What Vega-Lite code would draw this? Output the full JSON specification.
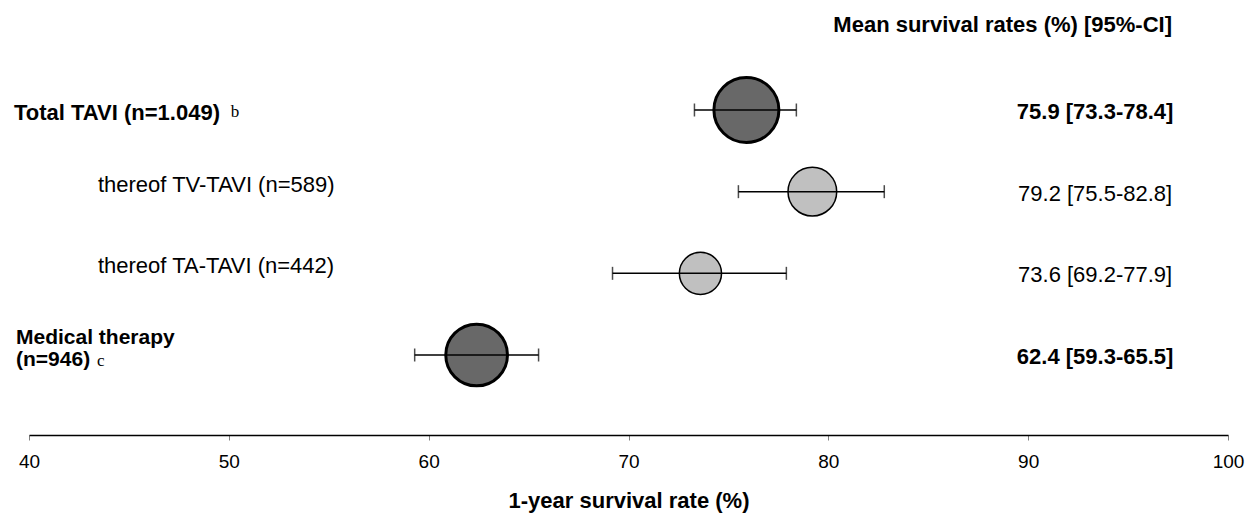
{
  "$schema": "https://vega.github.io/schema/vega-lite/v6.json",
  "autosize": "none",
  "width": 1199,
  "height": 385,
  "padding": {"left": 29, "right": 19, "top": 50, "bottom": 78},
  "background": "white",
  "config": {"view": {"stroke": null}},
  "title": {
    "text": "Mean survival rates (%) [95%-CI]",
    "anchor": "end",
    "frame": "group",
    "font": "Liberation Sans",
    "fontSize": 22,
    "fontWeight": "bold",
    "color": "black",
    "baseline": "alphabetic",
    "offset": -4,
    "dx": -56
  },
  "data": {
    "values": [
      {"group": "Total TAVI", "label": "Total TAVI (n=1.049)", "note": "b", "n": 1049, "mean": 75.9, "lo": 73.3, "hi": 78.4, "level": "main", "ci": "75.9 [73.3-78.4]"},
      {"group": "TV-TAVI", "label": "thereof TV-TAVI (n=589)", "note": "", "n": 589, "mean": 79.2, "lo": 75.5, "hi": 82.8, "level": "sub", "ci": "79.2 [75.5-82.8]"},
      {"group": "TA-TAVI", "label": "thereof TA-TAVI (n=442)", "note": "", "n": 442, "mean": 73.6, "lo": 69.2, "hi": 77.9, "level": "sub", "ci": "73.6 [69.2-77.9]"},
      {"group": "Medical therapy", "label": ["Medical therapy", "(n=946)"], "note": "c", "n": 946, "mean": 62.4, "lo": 59.3, "hi": 65.5, "level": "main", "ci": "62.4 [59.3-65.5]"}
    ]
  },
  "encoding": {
    "y": {
      "field": "group",
      "type": "nominal",
      "scale": {"type": "point", "domain": ["Total TAVI", "TV-TAVI", "TA-TAVI", "Medical therapy"], "range": [60, 305], "padding": 0},
      "axis": null
    }
  },
  "layer": [
    {
      "mark": {"type": "point", "filled": true, "opacity": 1, "stroke": "black", "shape": "circle"},
      "encoding": {
        "x": {
          "field": "mean",
          "type": "quantitative",
          "scale": {"domain": [40, 100], "nice": false, "zero": false},
          "axis": {
            "values": [40, 50, 60, 70, 80, 90, 100],
            "format": "d",
            "grid": false,
            "labelFlush": false,
            "domainColor": "black",
            "domainWidth": 1.5,
            "tickColor": "#808080",
            "tickSize": 5,
            "tickWidth": 1,
            "labelFont": "Liberation Sans",
            "labelFontSize": 19,
            "labelColor": "black",
            "labelPadding": 12,
            "title": "1-year survival rate (%)",
            "titleFont": "Liberation Sans",
            "titleFontSize": 22,
            "titleFontWeight": "bold",
            "titleColor": "black",
            "titlePadding": 19
          }
        },
        "size": {"field": "n", "type": "quantitative", "scale": {"domain": [0, 1049], "range": [0, 4225]}, "legend": null},
        "fill": {"field": "level", "type": "nominal", "scale": {"domain": ["main", "sub"], "range": ["#686868", "#c0c0c0"]}, "legend": null},
        "strokeWidth": {"field": "level", "type": "ordinal", "scale": {"domain": ["main", "sub"], "range": [3, 1.5]}, "legend": null}
      }
    },
    {
      "mark": {"type": "rule", "color": "black", "strokeWidth": 1.5},
      "encoding": {
        "x": {"field": "lo", "type": "quantitative"},
        "x2": {"field": "hi"}
      }
    },
    {
      "mark": {"type": "tick", "color": "black", "thickness": 1.5, "size": 13},
      "encoding": {"x": {"field": "lo", "type": "quantitative"}}
    },
    {
      "mark": {"type": "tick", "color": "black", "thickness": 1.5, "size": 13},
      "encoding": {"x": {"field": "hi", "type": "quantitative"}}
    },
    {
      "transform": [{"filter": "datum.group === 'Total TAVI'"}],
      "mark": {"type": "text", "align": "left", "baseline": "alphabetic", "font": "Liberation Sans", "fontSize": 22, "fontWeight": "bold", "color": "black", "dy": 9.5},
      "encoding": {
        "x": {"datum": 39.25, "type": "quantitative"},
        "text": {"field": "label"}
      }
    },
    {
      "transform": [{"filter": "datum.group === 'Medical therapy'"}],
      "mark": {"type": "text", "align": "left", "baseline": "alphabetic", "font": "Liberation Sans", "fontSize": 21, "fontWeight": "bold", "color": "black", "dy": -11.5, "lineHeight": 22},
      "encoding": {
        "x": {"datum": 39.35, "type": "quantitative"},
        "text": {"field": "label"}
      }
    },
    {
      "transform": [{"filter": "datum.level === 'sub'"}],
      "mark": {"type": "text", "align": "left", "baseline": "alphabetic", "font": "Liberation Sans", "fontSize": 22, "color": "black", "dy": 0},
      "encoding": {
        "x": {"datum": 43.45, "type": "quantitative"},
        "text": {"field": "label"}
      }
    },
    {
      "transform": [{"filter": "datum.note === 'b'"}],
      "mark": {"type": "text", "align": "left", "baseline": "alphabetic", "font": "Liberation Serif", "fontSize": 17, "color": "black", "dy": 7},
      "encoding": {
        "x": {"datum": 50.1, "type": "quantitative"},
        "text": {"field": "note"}
      }
    },
    {
      "transform": [{"filter": "datum.note === 'c'"}],
      "mark": {"type": "text", "align": "left", "baseline": "alphabetic", "font": "Liberation Serif", "fontSize": 17, "color": "black", "dy": 10.5},
      "encoding": {
        "x": {"datum": 43.4, "type": "quantitative"},
        "text": {"field": "note"}
      }
    },
    {
      "transform": [{"filter": "datum.level === 'main'"}],
      "mark": {"type": "text", "align": "center", "baseline": "alphabetic", "font": "Liberation Sans", "fontSize": 22, "fontWeight": "bold", "color": "black", "dy": 9},
      "encoding": {
        "x": {"datum": 93.35, "type": "quantitative"},
        "text": {"field": "ci"}
      }
    },
    {
      "transform": [{"filter": "datum.level === 'sub'"}],
      "mark": {"type": "text", "align": "center", "baseline": "alphabetic", "font": "Liberation Sans", "fontSize": 22, "color": "black", "dy": 9},
      "encoding": {
        "x": {"datum": 93.35, "type": "quantitative"},
        "text": {"field": "ci"}
      }
    }
  ]
}
